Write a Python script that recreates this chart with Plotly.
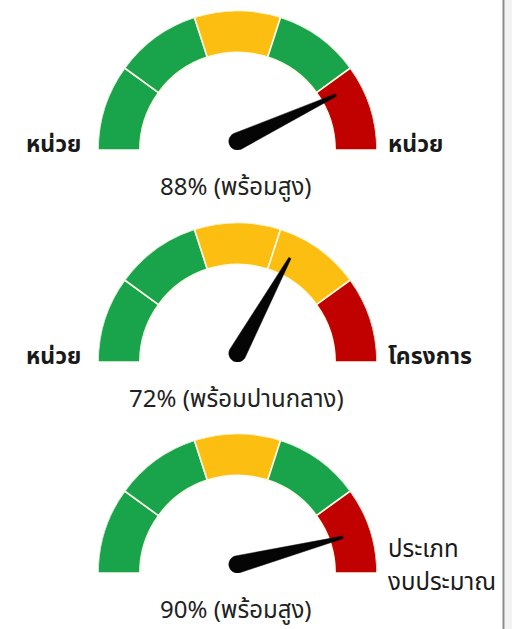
import math
import plotly.graph_objects as go

# ---------------- data ----------------
pct_labels = [88, 72, 90]
status_labels = ["พร้อมสูง", "พร้อมปานกลาง", "พร้อมสูง"]
needle_values = [86, 66, 92]          # needle position (0-100)
left_labels = ["หน่วย", "หน่วย", ""]
right_labels = [["หน่วย"], ["โครงการ"], ["ประเภท", "งบประมาณ"]]
segment_bounds = [0, 20, 40, 60, 80, 100]   # gauge scale segments
segment_colors = [
    ["green", "green", "yellow", "green", "red"],
    ["green", "green", "yellow", "yellow", "red"],
    ["green", "green", "yellow", "green", "red"],
]

# ---------------- style ----------------
W, H = 512, 629
PALETTE = {"green": "#19a34b", "yellow": "#fdbe12", "red": "#c10000"}
FONT = "Noto Sans Thai, Tahoma, Noto Sans, Loma, Garuda, sans-serif"
CX, R = 237.5, 139.5
centers_y = [150, 362, 573]
x0, x1 = CX - R, CX + R

fig = go.Figure()
layout = dict(
    width=W, height=H, margin=dict(l=0, r=0, t=0, b=0),
    paper_bgcolor="white", plot_bgcolor="rgba(0,0,0,0)",
    showlegend=False, annotations=[], shapes=[],
)

def v2deg(v):
    return 180.0 - 1.8 * v

for i in range(3):
    k = "" if i == 0 else str(i + 1)
    cy = centers_y[i]
    dom_x = [x0 / W, x1 / W]
    dom_y = [1 - cy / H, 1 - (cy - R) / H]

    # gauge segments (barpolar)
    thetas, widths, cols = [], [], []
    for j in range(len(segment_bounds) - 1):
        a, b = v2deg(segment_bounds[j]), v2deg(segment_bounds[j + 1])
        thetas.append((a + b) / 2)
        widths.append(abs(a - b))
        cols.append(PALETTE[segment_colors[i][j]])
    fig.add_trace(go.Barpolar(
        r=[0.30] * len(thetas), base=[0.70] * len(thetas), theta=thetas, width=widths,
        marker=dict(color=cols, line=dict(color="#fbfbe8", width=1.6)),
        subplot="polar" + k, hoverinfo="skip",
    ))
    layout["polar" + k] = dict(
        domain=dict(x=dom_x, y=dom_y), sector=[0, 180], hole=0,
        bgcolor="rgba(0,0,0,0)",
        radialaxis=dict(range=[0, 1], visible=False),
        angularaxis=dict(visible=False, direction="counterclockwise", rotation=0),
    )

    # needle (cartesian axes overlay, units = gauge radius), drawn as a shape above the arc
    ang = math.radians(v2deg(needle_values[i]))
    px, py = 0.0, 0.062
    L, rb, tw = 0.78, 0.062, 0.009
    ux, uy = math.cos(ang), math.sin(ang)
    nx, ny = -uy, ux
    pts = [(px + L * ux + tw * nx, py + L * uy + tw * ny),
           (px + L * ux - tw * nx, py + L * uy - tw * ny)]
    for s in range(0, 25):
        t = ang - math.pi / 2 - math.pi * s / 24
        pts.append((px + rb * math.cos(t), py + rb * math.sin(t)))
    path = "M " + " L ".join("%.5f,%.5f" % p for p in pts) + " Z"
    layout["shapes"].append(dict(
        type="path", path=path, xref="x" + k, yref="y" + k, layer="above",
        fillcolor="#050505", line=dict(color="#050505", width=0.5)))
    fig.add_trace(go.Scatter(x=[px], y=[py], mode="markers", marker=dict(size=1, opacity=0),
                             xaxis="x" + k, yaxis="y" + k, hoverinfo="skip"))
    layout["xaxis" + k] = dict(domain=dom_x, range=[-1, 1], visible=False, fixedrange=True,
                               anchor="y" + k)
    layout["yaxis" + k] = dict(domain=dom_y, range=[0, 1], visible=False, fixedrange=True,
                               anchor="x" + k)

    # side labels
    if left_labels[i]:
        layout["annotations"].append(dict(
            x=83 / W, y=1 - (cy - 5) / H, xref="paper", yref="paper",
            text="<b>%s</b>" % left_labels[i], showarrow=False, xanchor="right", yanchor="middle",
            font=dict(family=FONT, size=23, color="#1a1a1a")))
    lines = right_labels[i]
    if len(lines) > 1:
        for n, txt in enumerate(lines):
            layout["annotations"].append(dict(
                x=386 / W, y=1 - (cy - 23 + 33 * n) / H, xref="paper", yref="paper",
                text=txt, showarrow=False, xanchor="left", yanchor="middle",
                font=dict(family=FONT, size=24, color="#1a1a1a")))
    else:
        layout["annotations"].append(dict(
            x=386 / W, y=1 - (cy - 5) / H, xref="paper", yref="paper",
            text="<b>%s</b>" % lines[0], showarrow=False, xanchor="left", yanchor="middle",
            font=dict(family=FONT, size=23, color="#1a1a1a")))
    # bottom label
    layout["annotations"].append(dict(
        x=236 / W, y=1 - (cy + 38) / H, xref="paper", yref="paper",
        text="%d%% (%s)" % (pct_labels[i], status_labels[i]), showarrow=False,
        xanchor="center", yanchor="middle",
        font=dict(family=FONT, size=24, color="#222222")))

# right border (window edge)
layout["shapes"].append(dict(type="rect", xref="paper", yref="paper", x0=505 / W, x1=1, y0=0, y1=1,
                             fillcolor="#f2f2f2", line=dict(width=0), layer="below"))
layout["shapes"].append(dict(type="line", xref="paper", yref="paper", x0=503.5 / W, x1=503.5 / W,
                             y0=0, y1=1, line=dict(color="#8a8a8a", width=2)))

fig.update_layout(**layout)
fig.write_html("out.html", config={"displayModeBar": False},
               post_script="document.body.style.margin='0';document.body.style.overflow='hidden';")
